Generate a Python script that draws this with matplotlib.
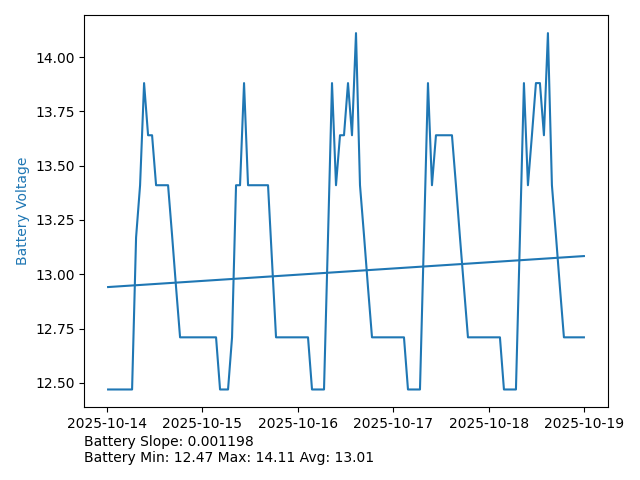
import matplotlib
matplotlib.use("Agg")
import matplotlib.pyplot as plt
import matplotlib.dates as mdates
import numpy as np
import pandas as pd

start = "2025-10-14 00:21"
step_seconds = 3618
voltage = [
    12.47, 12.47, 12.47, 12.47, 12.47, 12.47, 12.47,  # h0-6
    13.17, 13.41, 13.88, 13.64, 13.64,                # h7-11
    13.41, 13.41, 13.41, 13.41, 13.18, 12.94,         # h12-17
    12.71, 12.71, 12.71, 12.71, 12.71, 12.71, 12.71, 12.71, 12.71, 12.71,  # h18-27
    12.47, 12.47, 12.47, 12.71,                       # h28-31
    13.41, 13.41, 13.88,                              # h32-34
    13.41, 13.41, 13.41, 13.41, 13.41, 13.41, 13.06,  # h35-41
    12.71, 12.71, 12.71, 12.71, 12.71, 12.71, 12.71, 12.71, 12.71,  # h42-50
    12.47, 12.47, 12.47, 12.47,                       # h51-54
    13.17, 13.88, 13.41, 13.64, 13.64, 13.88, 13.64, 14.11, 13.41,  # h55-63
    13.18, 12.94,                                     # h64-65
    12.71, 12.71, 12.71, 12.71, 12.71, 12.71, 12.71, 12.71, 12.71,  # h66-74
    12.47, 12.47, 12.47, 12.47,                       # h75-78
    13.17, 13.88, 13.41,                              # h79-81
    13.64, 13.64, 13.64, 13.64, 13.64,                # h82-86
    13.41, 13.17, 12.94,                              # h87-89
    12.71, 12.71, 12.71, 12.71, 12.71, 12.71, 12.71, 12.71, 12.71,  # h90-98
    12.47, 12.47, 12.47, 12.47,                       # h99-102
    13.17, 13.88, 13.41, 13.64, 13.88, 13.88, 13.64, 14.11, 13.41,  # h103-111
    13.18, 12.94,                                     # h112-113
    12.71, 12.71, 12.71, 12.71, 12.71, 12.71,         # h114-119
]
times = pd.date_range(start, periods=len(voltage), freq=f"{step_seconds}s")

slope = 0.001198  # volts per sample
slope_text = "Battery Slope: 0.001198"
stats_text = "Battery Min: 12.47 Max: 14.11 Avg: 13.01"

fig = plt.figure(figsize=(6.4, 4.8), dpi=100)
ax = fig.add_axes([84.3/640, 1-407.3/480, (607.7-84.3)/640, (407.3-15.3)/480])

ax.plot(times, voltage, color="tab:blue")
idx = np.arange(len(voltage))
intercept = np.mean(voltage) - slope * np.mean(idx)
ax.plot(times, intercept + slope * idx, color="tab:blue")

ax.set_ylabel("Battery Voltage", color="tab:blue")
ax.xaxis.set_major_locator(mdates.DayLocator())
ax.xaxis.set_major_formatter(mdates.DateFormatter("%Y-%m-%d"))

fig.text(84.3/640, 1-435/480, slope_text + "\n" + stats_text, ha="left", va="top", fontsize=10)

fig.savefig("out.png", dpi=100)
